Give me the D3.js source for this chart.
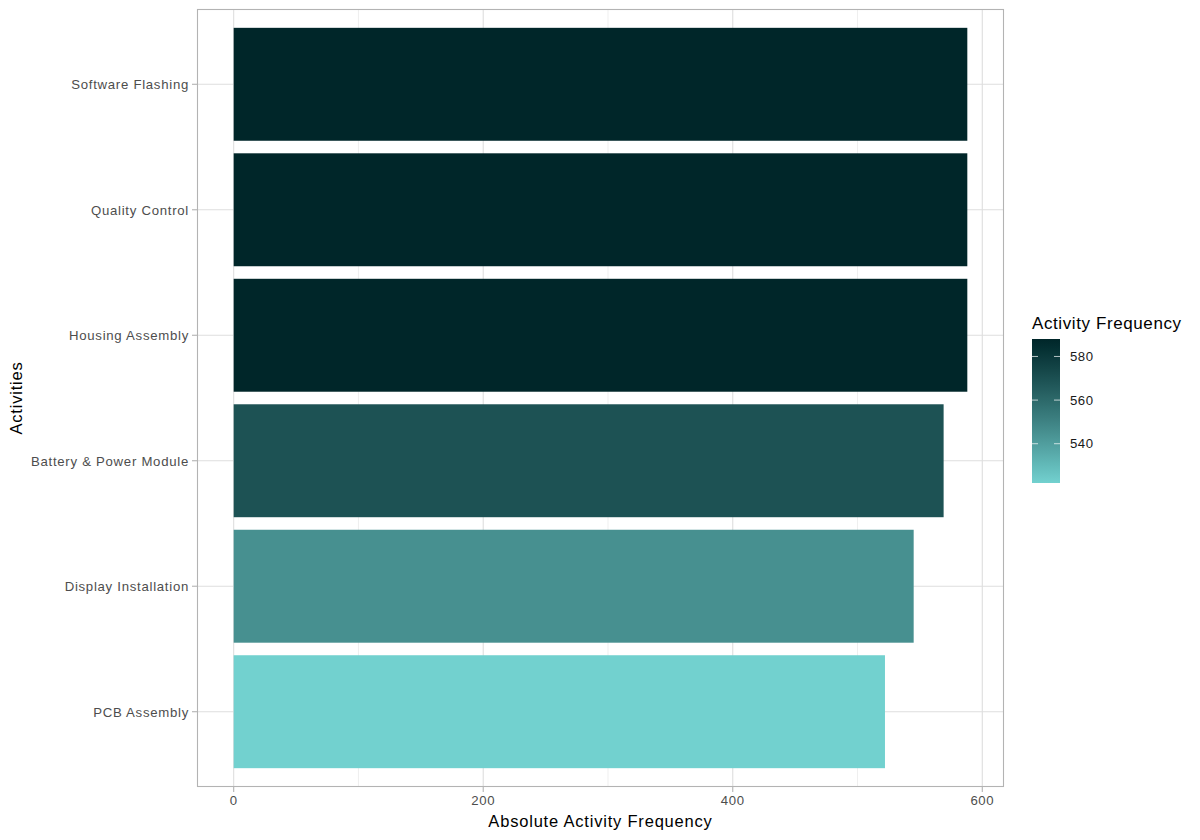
<!DOCTYPE html>
<html><head><meta charset="utf-8">
<script src="https://cdn.jsdelivr.net/npm/d3@7"></script>
<style>body{margin:0;background:#fff;font-family:"Liberation Sans",Arial,sans-serif;}</style>
</head><body><svg id="c" width="1200" height="840"></svg>
<script>
const categories = ["PCB Assembly","Display Installation","Battery & Power Module","Housing Assembly","Quality Control","Software Flashing"];
const values = [522, 545, 569, 588, 588, 588];
const xTicks = [0, 200, 400, 600];
const xMinor = [100, 300, 500];
const legendTicks = [540, 560, 580];
const lowColor = "#72d1cf", highColor = "#002629";

const svg = d3.select("#c");
const P = {l:197, r:1004, t:9, b:787};
const maxV = d3.max(values), minV = d3.min(values);
const x = d3.scaleLinear().domain([-maxV*0.05, maxV*1.05]).range([P.l, P.r]);
const n = categories.length;
const yc = d3.scaleLinear().domain([0.4, n+0.6]).range([P.b, P.t]);
const color = d3.scaleLinear().domain([minV, maxV]).range([lowColor, highColor]).interpolate(d3.interpolateLab);

// grid
const g = svg.append("g");
g.selectAll(".mn").data(xMinor).join("line").attr("x1",d=>x(d)).attr("x2",d=>x(d)).attr("y1",P.t).attr("y2",P.b).attr("stroke","#efefef").attr("stroke-width",1);
g.selectAll(".mj").data(xTicks).join("line").attr("x1",d=>x(d)).attr("x2",d=>x(d)).attr("y1",P.t).attr("y2",P.b).attr("stroke","#dedede").attr("stroke-width",1.1);
g.selectAll(".hy").data(categories).join("line").attr("x1",P.l).attr("x2",P.r).attr("y1",(d,i)=>yc(i+1)).attr("y2",(d,i)=>yc(i+1)).attr("stroke","#dedede").attr("stroke-width",1.1);

// bars
const bh = (yc(0)-yc(1))*0.9;
svg.selectAll(".bar").data(values).join("rect")
  .attr("x", x(0)).attr("width", d=>x(d)-x(0))
  .attr("y",(d,i)=>yc(i+1)-bh/2).attr("height",bh)
  .attr("fill", d=>color(d));

// panel border
svg.append("rect").attr("x",P.l+0.5).attr("y",P.t+0.5).attr("width",P.r-P.l-1).attr("height",P.b-P.t-1).attr("fill","none").attr("stroke","#b3b3b3").attr("stroke-width",1.1);

// x axis ticks
const ax = svg.append("g");
ax.selectAll("line").data(xTicks).join("line").attr("x1",d=>x(d)).attr("x2",d=>x(d)).attr("y1",P.b).attr("y2",P.b+5).attr("stroke","#b3b3b3").attr("stroke-width",1.1);
ax.selectAll("text").data(xTicks).join("text").attr("x",d=>x(d)).attr("y",P.b+18).attr("text-anchor","middle").attr("font-size",13.2).attr("letter-spacing","0.6px").attr("fill","#4d4d4d").text(d=>d);
// y axis ticks
const ay = svg.append("g");
ay.selectAll("line").data(categories).join("line").attr("x1",P.l-5).attr("x2",P.l).attr("y1",(d,i)=>yc(i+1)).attr("y2",(d,i)=>yc(i+1)).attr("stroke","#b3b3b3").attr("stroke-width",1.1);
ay.selectAll("text").data(categories).join("text").attr("x",P.l-8).attr("y",(d,i)=>yc(i+1)+0.5).attr("dy","0.35em").attr("text-anchor","end").attr("font-size",13.2).attr("letter-spacing","0.72px").attr("fill","#4d4d4d").text(d=>d);

// titles
svg.append("text").attr("x",(P.l+P.r)/2).attr("y",827).attr("text-anchor","middle").attr("font-size",16.5).attr("letter-spacing","0.8px").attr("fill","#000").text("Absolute Activity Frequency");
svg.append("text").attr("transform",`translate(22,${(P.t+P.b)/2}) rotate(-90)`).attr("text-anchor","middle").attr("font-size",16.5).attr("letter-spacing","0.8px").attr("fill","#000").text("Activities");

// legend
const L = {x:1032, y0:339, y1:483, w:28};
const ly = d3.scaleLinear().domain([minV, maxV]).range([L.y1, L.y0]);
const defs = svg.append("defs");
const grad = defs.append("linearGradient").attr("id","lg").attr("x1",0).attr("x2",0).attr("y1",1).attr("y2",0);
d3.range(0,1.0001,0.05).forEach(t=>grad.append("stop").attr("offset",t).attr("stop-color",color(minV+t*(maxV-minV))));
svg.append("text").attr("x",L.x).attr("y",329).attr("font-size",17).attr("letter-spacing","0.6px").attr("fill","#000").text("Activity Frequency");
svg.append("rect").attr("x",L.x).attr("y",L.y0).attr("width",L.w).attr("height",L.y1-L.y0).attr("fill","url(#lg)");
const lt = svg.append("g");
legendTicks.forEach(v=>{
  lt.append("line").attr("x1",L.x).attr("x2",L.x+6).attr("y1",ly(v)).attr("y2",ly(v)).attr("stroke","#fff").attr("stroke-opacity",0.7);
  lt.append("line").attr("x1",L.x+L.w-6).attr("x2",L.x+L.w).attr("y1",ly(v)).attr("y2",ly(v)).attr("stroke","#fff").attr("stroke-opacity",0.7);
  lt.append("text").attr("x",L.x+L.w+10).attr("y",ly(v)).attr("dy","0.35em").attr("font-size",13.2).attr("letter-spacing","0.5px").attr("fill","#1a1a1a").text(v);
});
</script></body></html>
